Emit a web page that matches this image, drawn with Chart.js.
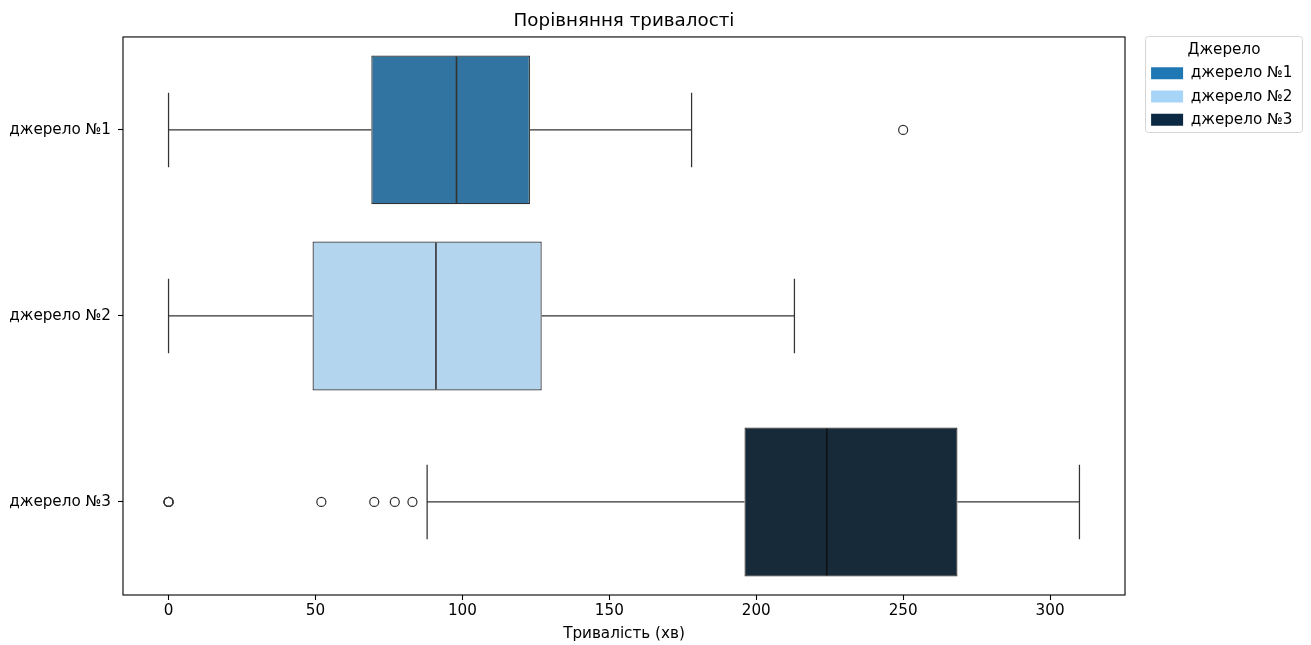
<!DOCTYPE html>
<html>
<head>
<meta charset="utf-8">
<script src="https://cdn.jsdelivr.net/npm/chart.js@4.4.0/dist/chart.umd.min.js"></script>
<style>
  html, body { margin: 0; padding: 0; background: #fff; }
</style>
</head>
<body>
<canvas id="boxChart" width="1311" height="645"></canvas>
<script>
var categories = ["джерело №1", "джерело №2", "джерело №3"];
var whiskerLow = [0, 0, 88];
var q1 = [69, 49, 196];
var median = [98, 91, 224];
var q3 = [123, 127, 268.5];
var whiskerHigh = [178, 213, 310];
var outliers = [[250], [], [0, 0, 0, 52, 70, 77, 83]];
var xTicks = [0, 50, 100, 150, 200, 250, 300];

var boxColors = ["#3274a1", "#b4d5ee", "#172a3a"];
var legendColors = ["#1f77b4", "#a6d5f7", "#0b2942"];
var lineColor = "#333333";

Chart.defaults.font.family = "'DejaVu Sans', sans-serif";
Chart.defaults.color = "#000";

var outlierPoints = [];
outliers.forEach(function (list, i) {
  list.forEach(function (v) {
    outlierPoints.push({ x: v, y: categories[i] });
  });
});

// whiskers, caps, medians and the frames
var boxExtras = {
  id: "boxExtras",
  beforeUpdate: function (chart) {
    var lg = chart.legend;
    if (lg && !lg._fitPatched) {
      var fit = lg.fit;
      lg.fit = function () { fit.call(this); this.width = 186; };
      lg._fitPatched = true;
    }
  },
  afterLayout: function (chart) {
    var lg = chart.legend, area = chart.chartArea;
    lg.left = area.right + 18;
    lg.width = 162;
    lg.right = lg.left + lg.width;
    lg.top = area.top - 1;
  },
  beforeDatasetsDraw: function (chart) {
    var ctx = chart.ctx, xs = chart.scales.x, ys = chart.scales.y;
    var band = ys.getPixelForValue(1) - ys.getPixelForValue(0);
    var half = band * 0.8 / 4;
    ctx.save();
    ctx.strokeStyle = lineColor;
    ctx.lineWidth = 1.25;
    categories.forEach(function (c, i) {
      var yc = ys.getPixelForValue(i);
      ctx.beginPath();
      ctx.moveTo(xs.getPixelForValue(whiskerLow[i]), yc);
      ctx.lineTo(xs.getPixelForValue(q1[i]), yc);
      ctx.moveTo(xs.getPixelForValue(q3[i]), yc);
      ctx.lineTo(xs.getPixelForValue(whiskerHigh[i]), yc);
      ctx.moveTo(xs.getPixelForValue(whiskerLow[i]), yc - half);
      ctx.lineTo(xs.getPixelForValue(whiskerLow[i]), yc + half);
      ctx.moveTo(xs.getPixelForValue(whiskerHigh[i]), yc - half);
      ctx.lineTo(xs.getPixelForValue(whiskerHigh[i]), yc + half);
      ctx.stroke();
    });
    ctx.restore();
  },
  afterDatasetsDraw: function (chart) {
    var ctx = chart.ctx, xs = chart.scales.x, ys = chart.scales.y;
    var band = ys.getPixelForValue(1) - ys.getPixelForValue(0);
    var h = band * 0.8 / 2;
    ctx.save();
    ctx.lineWidth = 1.6;
    categories.forEach(function (c, i) {
      var yc = ys.getPixelForValue(i);
      var xm = xs.getPixelForValue(median[i]);
      ctx.strokeStyle = i === 2 ? "#111" : lineColor;
      ctx.beginPath();
      ctx.moveTo(xm, yc - h + 1);
      ctx.lineTo(xm, yc + h - 1);
      ctx.stroke();
    });
    var a = chart.chartArea;
    ctx.strokeStyle = "#000";
    ctx.lineWidth = 1.1;
    ctx.strokeRect(a.left, a.top, a.right - a.left, a.bottom - a.top);
    ctx.restore();
  },
  afterDraw: function (chart) {
    var ctx = chart.ctx, lg = chart.legend;
    ctx.save();
    ctx.strokeStyle = "#d6d6d6";
    ctx.lineWidth = 1;
    ctx.beginPath();
    ctx.roundRect(lg.left + 2.5, lg.top + 0.5, 157, 96, 3);
    ctx.stroke();
    ctx.restore();
  }
};

var chart = new Chart(document.getElementById("boxChart"), {
  type: "bar",
  data: {
    labels: categories,
    datasets: [
      {
        label: "box",
        indexAxis: "y",
        data: categories.map(function (c, i) { return [q1[i], q3[i]]; }),
        backgroundColor: boxColors,
        borderColor: lineColor,
        borderWidth: 1.25,
        borderSkipped: false,
        barPercentage: 0.8,
        categoryPercentage: 1.0,
        order: 1
      },
      {
        type: "scatter",
        label: "outliers",
        data: outlierPoints,
        pointStyle: "circle",
        pointRadius: 4.5,
        backgroundColor: "rgba(0,0,0,0)",
        borderColor: lineColor,
        borderWidth: 1.25,
        order: 0
      }
    ]
  },
  options: {
    responsive: false,
    animation: false,
    indexAxis: "y",
    layout: { padding: 0 },
    plugins: {
      tooltip: { enabled: false },
      title: {
        display: true,
        text: "Порівняння тривалості",
        fullSize: false,
        font: { size: 18.3, weight: "normal" },
        color: "#000",
        padding: { top: 10, bottom: 5 }
      },
      legend: {
        display: true,
        position: "right",
        align: "start",
        labels: {
          boxWidth: 32,
          boxHeight: 12,
          padding: 8.1,
          color: "#000",
          font: { size: 15.2 },
          generateLabels: function () {
            return categories.map(function (c, i) {
              return {
                text: c,
                fillStyle: legendColors[i],
                strokeStyle: legendColors[i],
                lineWidth: 0,
                hidden: false,
                datasetIndex: 0,
                index: i
              };
            });
          }
        },
        title: {
          display: true,
          text: "Джерело",
          color: "#000",
          font: { size: 15.2, lineHeight: 1 },
          padding: { top: 6.4, bottom: 0 }
        }
      }
    },
    scales: {
      x: {
        type: "linear",
        min: -15.5,
        max: 325.5,
        afterFit: function (scale) { scale.height = 50; },
        afterBuildTicks: function (scale) {
          scale.ticks = xTicks.map(function (v) { return { value: v }; });
        },
        ticks: { font: { size: 15.2 }, color: "#000", padding: 2, maxRotation: 0 },
        grid: { drawOnChartArea: false, drawTicks: true, tickLength: 5, tickColor: "#000", tickWidth: 1.1 },
        border: { display: false },
        title: {
          display: true,
          text: "Тривалість (хв)",
          color: "#000",
          font: { size: 15.2 },
          padding: { top: 0, bottom: 1.9 }
        }
      },
      y: {
        type: "category",
        offset: true,
        afterFit: function (scale) { scale.width = 123; },
        ticks: { font: { size: 15.2 }, color: "#000", padding: 7 },
        grid: { offset: false, drawOnChartArea: false, drawTicks: true, tickLength: 5, tickColor: "#000", tickWidth: 1.1 },
        border: { display: false }
      }
    }
  },
  plugins: [boxExtras]
});
</script>
</body>
</html>
